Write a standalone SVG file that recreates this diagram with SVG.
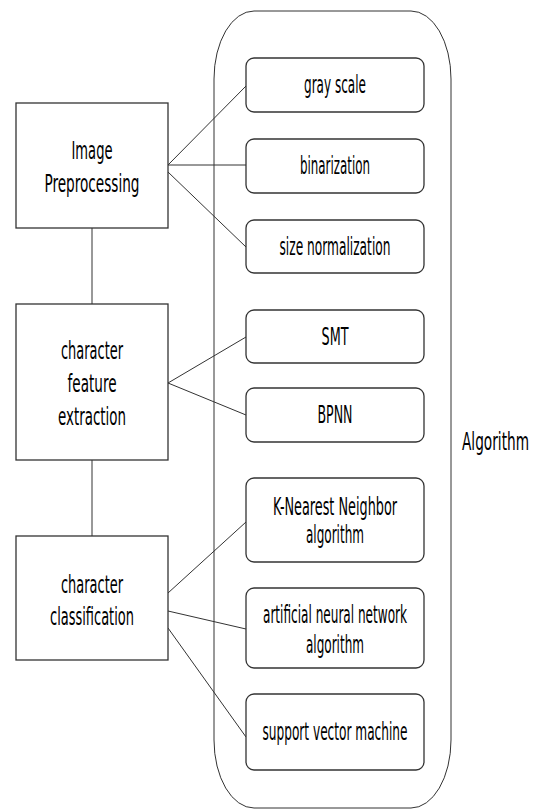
<svg xmlns="http://www.w3.org/2000/svg" width="537" height="810" viewBox="0 0 537 810">
<style>
.bg{fill:#fff}
.step{fill:#fff;stroke:#333;stroke-width:1.3}
.alg{fill:#fff;stroke:#333;stroke-width:1.3}
.outer{fill:none;stroke:#333;stroke-width:1}
.conn line{stroke:#333;stroke-width:1}
text{font-family:"Liberation Sans Narrow","DejaVu Sans Condensed","Liberation Sans",sans-serif;font-size:24px;fill:#000;text-anchor:middle}
</style>
<rect class="bg" x="0" y="0" width="537" height="810"/>
<g id="algorithm-group">
<rect class="outer" x="214" y="11" width="237" height="797" rx="40" ry="68"/>
<text x="529" y="450" textLength="67" lengthAdjust="spacingAndGlyphs" style="text-anchor:end">Algorithm</text>
</g>
<g id="connectors" class="conn">
<line x1="92" y1="228" x2="92" y2="304"/>
<line x1="92" y1="460" x2="92" y2="536"/>
<line x1="168" y1="165" x2="246" y2="86"/>
<line x1="168" y1="165" x2="246" y2="165"/>
<line x1="168" y1="172" x2="246" y2="247"/>
<line x1="168" y1="383" x2="246" y2="337"/>
<line x1="168" y1="383" x2="246" y2="415"/>
<line x1="168" y1="593" x2="246" y2="522"/>
<line x1="168" y1="611" x2="246" y2="629"/>
<line x1="168" y1="628" x2="246" y2="737"/>
</g>
<g id="image-preprocessing">
<rect class="step" x="16" y="103" width="152" height="125"/>
<text x="92" y="159" textLength="41" lengthAdjust="spacingAndGlyphs">Image</text>
<text x="92" y="192" textLength="95" lengthAdjust="spacingAndGlyphs">Preprocessing</text>
</g>
<g id="character-feature-extraction">
<rect class="step" x="16" y="304" width="152" height="156"/>
<text x="92" y="359" textLength="62" lengthAdjust="spacingAndGlyphs">character</text>
<text x="92" y="392" textLength="49" lengthAdjust="spacingAndGlyphs">feature</text>
<text x="92" y="425" textLength="68" lengthAdjust="spacingAndGlyphs">extraction</text>
</g>
<g id="character-classification">
<rect class="step" x="16" y="536" width="152" height="124"/>
<text x="92" y="593" textLength="62" lengthAdjust="spacingAndGlyphs">character</text>
<text x="92" y="625" textLength="84" lengthAdjust="spacingAndGlyphs">classification</text>
</g>
<g id="gray-scale">
<rect class="alg" x="246" y="58" width="178" height="54" rx="8"/>
<text x="335" y="93" textLength="62" lengthAdjust="spacingAndGlyphs">gray scale</text>
</g>
<g id="binarization">
<rect class="alg" x="246" y="139" width="178" height="54" rx="8"/>
<text x="335" y="174" textLength="70" lengthAdjust="spacingAndGlyphs">binarization</text>
</g>
<g id="size-normalization">
<rect class="alg" x="246" y="220" width="178" height="53" rx="8"/>
<text x="335" y="255" textLength="111" lengthAdjust="spacingAndGlyphs">size normalization</text>
</g>
<g id="smt">
<rect class="alg" x="246" y="310" width="178" height="53" rx="8"/>
<text x="335" y="345" textLength="27" lengthAdjust="spacingAndGlyphs">SMT</text>
</g>
<g id="bpnn">
<rect class="alg" x="246" y="388" width="178" height="54" rx="8"/>
<text x="335" y="423" textLength="35" lengthAdjust="spacingAndGlyphs">BPNN</text>
</g>
<g id="knn">
<rect class="alg" x="246" y="478" width="178" height="84" rx="8"/>
<text x="335" y="515" textLength="124" lengthAdjust="spacingAndGlyphs">K-Nearest Neighbor</text>
<text x="335" y="543" textLength="58" lengthAdjust="spacingAndGlyphs">algorithm</text>
</g>
<g id="ann">
<rect class="alg" x="246" y="588" width="178" height="80" rx="8"/>
<text x="335" y="623" textLength="144" lengthAdjust="spacingAndGlyphs">artificial neural network</text>
<text x="335" y="653" textLength="58" lengthAdjust="spacingAndGlyphs">algorithm</text>
</g>
<g id="svm">
<rect class="alg" x="246" y="694" width="178" height="76" rx="8"/>
<text x="335" y="740" textLength="145" lengthAdjust="spacingAndGlyphs">support vector machine</text>
</g>
</svg>
